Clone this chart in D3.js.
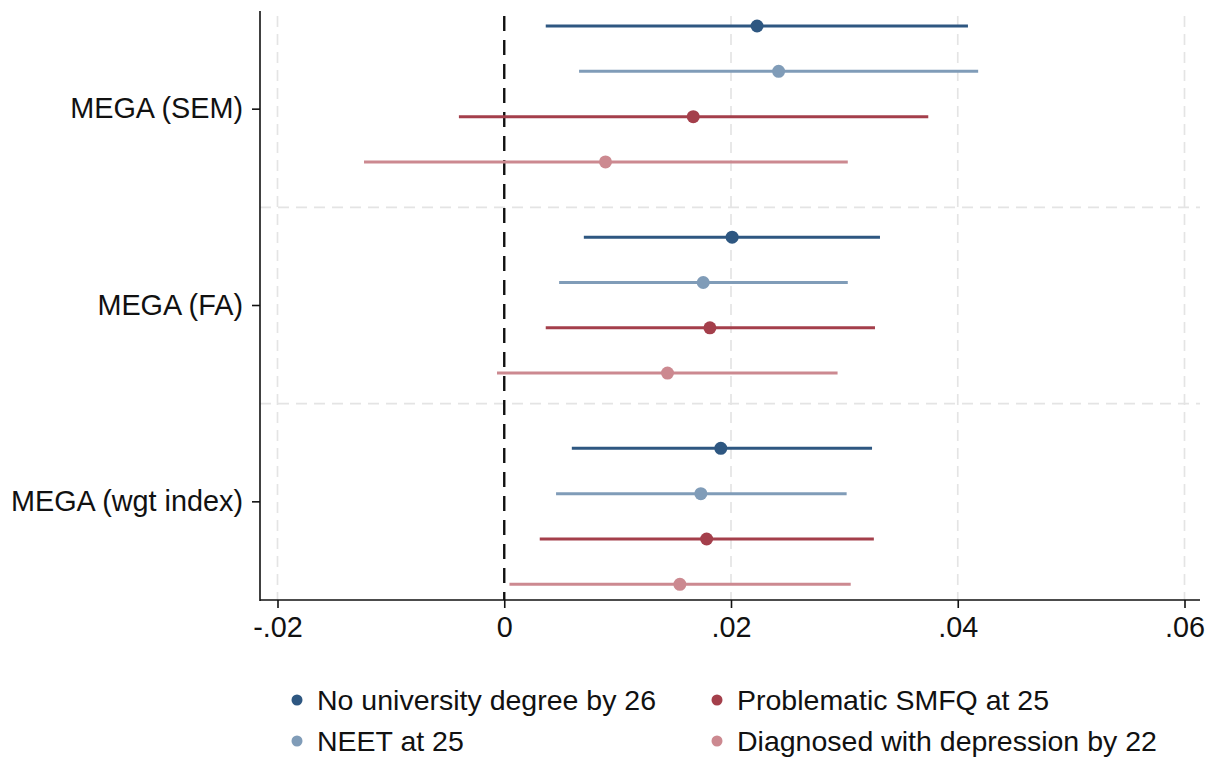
<!DOCTYPE html>
<html>
<head>
<meta charset="utf-8">
<script src="https://cdn.jsdelivr.net/npm/d3@7"></script>
<style>
  body { margin: 0; background: #fff; }
  text { font-family: "Liberation Sans", Arial, sans-serif; fill: #111; }
</style>
</head>
<body>
<svg id="chart" width="1215" height="765"></svg>
<script>
// categories on the y axis (top to bottom)
const categories = ["MEGA (SEM)", "MEGA (FA)", "MEGA (wgt index)"];

// outcome series
const seriesNames = [
  "No university degree by 26",
  "NEET at 25",
  "Problematic SMFQ at 25",
  "Diagnosed with depression by 22"
];

// point estimates, one array per series, ordered like categories
const coefNoUni = [0.0223, 0.0201, 0.0191];
const coefNeet = [0.0242, 0.01755, 0.01734];
const coefSmfq = [0.01667, 0.01814, 0.01785];
const coefDep = [0.00893, 0.0144, 0.01549];

// confidence interval bounds
const loNoUni = [0.00366, 0.00702, 0.00596];
const loNeet = [0.0066, 0.00484, 0.00457];
const loSmfq = [-0.0040, 0.00366, 0.00313];
const loDep = [-0.01237, -0.00064, 0.00046];

const hiNoUni = [0.0409, 0.03314, 0.03244];
const hiNeet = [0.0418, 0.0303, 0.0302];
const hiSmfq = [0.0374, 0.0327, 0.0326];
const hiDep = [0.0303, 0.0294, 0.03056];

const xTickValues = [-0.02, 0, 0.02, 0.04, 0.06];
const xTickLabels = ["-.02", "0", ".02", ".04", ".06"];

const seriesColors = ["#2e5781", "#809cb8", "#a43f4b", "#cc8990"];

const coefs = [coefNoUni, coefNeet, coefSmfq, coefDep];
const los = [loNoUni, loNeet, loSmfq, loDep];
const his = [hiNoUni, hiNeet, hiSmfq, hiDep];

const rows = [];
categories.forEach((c, gi) => {
  seriesNames.forEach((s, si) => {
    rows.push({ cat: gi, series: si, b: coefs[si][gi], lo: los[si][gi], hi: his[si][gi] });
  });
});

const svg = d3.select("#chart");
const plot = { left: 260, right: 1200, top: 11, bottom: 600 };
const GROUP_STEP = 4.66; // in row units
const FONT = "28.8px";
const LEGEND_FONT = "28.5px";

const x = d3.scaleLinear().domain([-0.02, 0.06]).range([277.5, 1184.5]);
const yCat = d3.scaleBand().domain(d3.range(categories.length)).range([plot.top, plot.bottom]);
const yRow = d3.scaleLinear()
  .domain([0, (categories.length - 1) * GROUP_STEP + seriesNames.length - 1])
  .range([26, 584.3]);
const rowY = d => yRow(d.cat * GROUP_STEP + d.series);

const grid = svg.append("g").attr("class", "grid");

// vertical grid
grid.selectAll(".vgrid")
  .data(xTickValues.filter(v => v !== 0))
  .enter().append("line")
  .attr("x1", d => x(d)).attr("x2", d => x(d))
  .attr("y1", 16).attr("y2", plot.bottom)
  .attr("stroke", "#e4e4e4").attr("stroke-width", 1.7)
  .attr("stroke-dasharray", "11,7");

// horizontal grid between groups
grid.selectAll(".hgrid")
  .data(d3.range(1, categories.length))
  .enter().append("line")
  .attr("x1", plot.left).attr("x2", plot.right)
  .attr("y1", d => yCat(d)).attr("y2", d => yCat(d))
  .attr("stroke", "#e4e4e4").attr("stroke-width", 1.7)
  .attr("stroke-dasharray", "11,7");

// zero reference line
svg.append("line")
  .attr("x1", x(0)).attr("x2", x(0))
  .attr("y1", 16).attr("y2", plot.bottom)
  .attr("stroke", "#111").attr("stroke-width", 2.4)
  .attr("stroke-dasharray", "15,9");

// confidence intervals
svg.append("g").selectAll("line")
  .data(rows)
  .enter().append("line")
  .attr("x1", d => x(d.lo)).attr("x2", d => x(d.hi))
  .attr("y1", rowY).attr("y2", rowY)
  .attr("stroke", d => seriesColors[d.series])
  .attr("stroke-width", 3);

// point estimates
svg.append("g").selectAll("circle")
  .data(rows)
  .enter().append("circle")
  .attr("cx", d => x(d.b)).attr("cy", rowY)
  .attr("r", 6.5)
  .attr("fill", d => seriesColors[d.series]);

// axes
const axisG = svg.append("g");
axisG.append("line")
  .attr("x1", plot.left).attr("x2", plot.left)
  .attr("y1", plot.top).attr("y2", plot.bottom + 1)
  .attr("stroke", "#111").attr("stroke-width", 1.6);
axisG.append("line")
  .attr("x1", plot.left).attr("x2", plot.right)
  .attr("y1", plot.bottom).attr("y2", plot.bottom)
  .attr("stroke", "#111").attr("stroke-width", 1.6);

const xAxis = d3.axisBottom(x)
  .tickValues(xTickValues)
  .tickSize(8)
  .tickPadding(9)
  .tickFormat((d, i) => xTickLabels[i]);
const xg = svg.append("g").attr("transform", `translate(0,${plot.bottom})`).call(xAxis);
xg.select(".domain").remove();
xg.selectAll(".tick line").attr("stroke", "#111").attr("stroke-width", 1.6);
xg.selectAll(".tick text")
  .style("font-family", "'Liberation Sans', Arial, sans-serif")
  .style("font-size", FONT).attr("fill", "#111");

const yAxis = d3.axisLeft(yCat)
  .tickSize(8)
  .tickPadding(9)
  .tickFormat(i => categories[i]);
const yg = svg.append("g").attr("transform", `translate(${plot.left},0)`).call(yAxis);
yg.select(".domain").remove();
yg.selectAll(".tick line").attr("stroke", "#111").attr("stroke-width", 1.6);
yg.selectAll(".tick text")
  .style("font-family", "'Liberation Sans', Arial, sans-serif")
  .style("font-size", FONT).attr("fill", "#111");

// legend, two columns
const legendPos = [[297, 700], [297, 741], [717, 700], [717, 741]];
const lg = svg.append("g").selectAll("g")
  .data(seriesNames)
  .enter().append("g")
  .attr("transform", (d, i) => `translate(${legendPos[i][0]},${legendPos[i][1]})`);
lg.append("circle").attr("r", 5.5).attr("fill", (d, i) => seriesColors[i]);
lg.append("text")
  .attr("x", 20).attr("dy", "0.35em")
  .style("font-size", LEGEND_FONT)
  .text(d => d);
</script>
</body>
</html>
